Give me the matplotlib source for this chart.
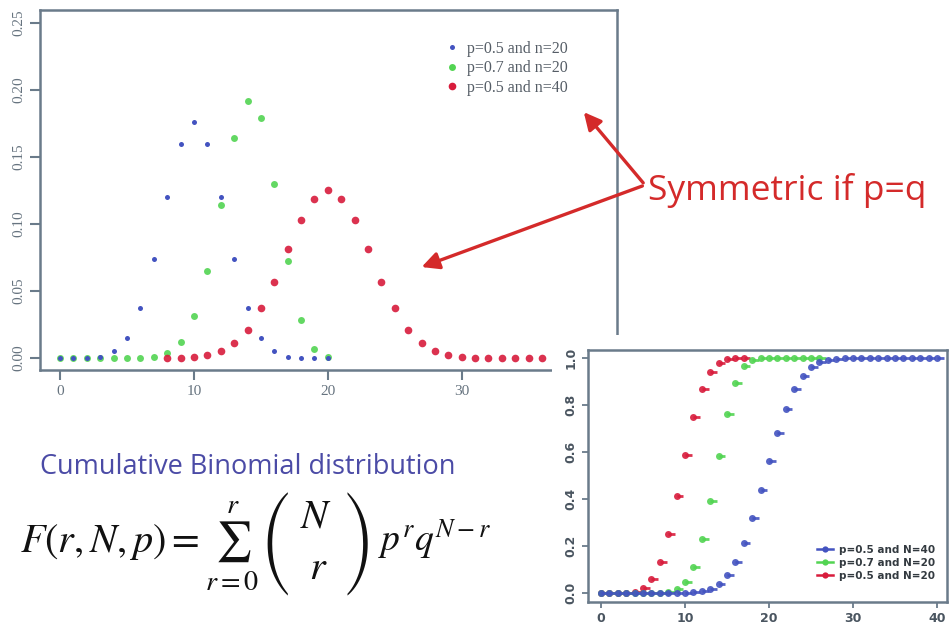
import matplotlib.pyplot as plt
import matplotlib.patches as mpatches
from matplotlib.lines import Line2D
import numpy as np

# ---- data: binomial probabilities (top-left panel) ----
x_b20 = list(range(0, 21))
pmf_b20 = [0, 0, 0, 0.001, 0.005, 0.015, 0.037, 0.074, 0.120, 0.160, 0.176,
           0.160, 0.120, 0.074, 0.037, 0.015, 0.005, 0.001, 0, 0, 0]
x_g20 = list(range(0, 21))
pmf_g20 = [0, 0, 0, 0, 0, 0, 0, 0.001, 0.004, 0.012, 0.031, 0.065, 0.114,
           0.164, 0.192, 0.179, 0.130, 0.072, 0.028, 0.007, 0.001]
x_r40 = list(range(8, 37))
pmf_r40 = [0, 0, 0.001, 0.002, 0.005, 0.011, 0.021, 0.037, 0.057, 0.081,
           0.103, 0.119, 0.125, 0.119, 0.103, 0.081, 0.057, 0.037, 0.021,
           0.011, 0.005, 0.002, 0.001, 0, 0, 0, 0, 0, 0]
pmf_labels = ['p=0.5 and n=20', 'p=0.7 and n=20', 'p=0.5 and n=40']

# ---- data: cumulative distribution (inset) ----
x_c40 = list(range(0, 41))
cdf_c40 = [0] * 11 + [0.003, 0.008, 0.019, 0.040, 0.077, 0.134, 0.215, 0.318,
                      0.437, 0.563, 0.682, 0.785, 0.866, 0.923, 0.960, 0.981,
                      0.992, 0.997] + [1.0] * 12
x_c07 = list(range(0, 27))
cdf_c07 = [0, 0, 0, 0, 0, 0, 0, 0, 0.005, 0.017, 0.048, 0.113, 0.228, 0.392,
           0.584, 0.762, 0.893, 0.965, 0.992, 0.999] + [1.0] * 7
x_c05 = list(range(0, 18))
cdf_c05 = [0, 0, 0, 0.001, 0.006, 0.021, 0.058, 0.132, 0.252, 0.412, 0.588,
           0.748, 0.868, 0.942, 0.979, 0.994, 0.999, 1.0]
cdf_labels = ['p=0.5 and N=40', 'p=0.7 and N=20', 'p=0.5 and N=20']

BLUE = '#4353c0'
GREEN = '#52d452'
RED = '#d81c3c'
AXC = '#6a7b8a'
TXC = '#66737f'

W, H = 950, 628
def fx(px):
    return px / W
def fy(py):
    return 1 - py / H

plt.rcParams['mathtext.fontset'] = 'stix'
fig = plt.figure(figsize=(9.5, 6.28), dpi=100)
fig.patch.set_facecolor('white')

# ==========================================
# main panel
# ==========================================
ax = fig.add_axes([fx(40), fy(370), fx(617) - fx(40), fy(10) - fy(370)])
ax.plot(x_g20, pmf_g20, 'o', color=GREEN, ms=5, mec='none', alpha=0.9)
ax.plot(x_b20, pmf_b20, 'o', color=BLUE, ms=3.6, mec='none')
ax.plot(x_r40, pmf_r40, 'o', color=RED, ms=5.5, mec='none', alpha=0.9)
ax.set_xlim(-1.5, 41.6)
ax.set_ylim(-0.009, 0.2597)
ax.set_xticks([0, 10, 20, 30])
ax.set_yticks([0, 0.05, 0.10, 0.15, 0.20, 0.25])
ax.set_yticklabels(['0.00', '0.05', '0.10', '0.15', '0.20', '0.25'],
                   rotation=90, va='center')
for s in ax.spines.values():
    s.set_color(AXC)
    s.set_linewidth(1.8)
ax.tick_params(colors=AXC, labelcolor=TXC, length=7, width=1.5, labelsize=11)
for lab in ax.get_xticklabels() + ax.get_yticklabels():
    lab.set_family('Liberation Serif')

handles = [Line2D([0], [0], ls='none', marker='o', color=c, ms=m, mec='none')
           for c, m in [(BLUE, 3.6), (GREEN, 5), (RED, 5.5)]]
leg = ax.legend(handles, pmf_labels, loc='upper left', frameon=False,
                bbox_to_anchor=(fx(438), fy(33)), bbox_transform=fig.transFigure,
                borderpad=0, handlelength=0.8, handletextpad=0.5, labelspacing=0.22,
                prop={'family': 'Liberation Serif', 'size': 11.5})
for t in leg.get_texts():
    t.set_color('#555d66')

# white backing of the inset picture, hiding the corner of the main box
cover = fig.add_axes([fx(552), 0, 1 - fx(552), fy(335)])
cover.set_zorder(2)
cover.axis('off')
cover.add_patch(mpatches.Rectangle((0, 0), 1, 1, color='white', transform=cover.transAxes))

# ==========================================
# inset: cumulative distribution
# ==========================================
ins = fig.add_axes([fx(588), fy(602), fx(947) - fx(588), fy(350) - fy(602)])
ins.set_zorder(3)
for xs, ys, c in [(x_c05, cdf_c05, RED), (x_c07, cdf_c07, GREEN), (x_c40, cdf_c40, BLUE)]:
    xs = np.array(xs)
    ins.hlines(ys, xs, xs + 0.8, color=c, lw=2, alpha=0.9)
    ins.plot(xs, ys, 'o', color=c, ms=5, mec='none', alpha=0.9)
ins.set_xlim(-1.55, 41.2)
ins.set_ylim(-0.038, 1.034)
ins.set_xticks([0, 10, 20, 30, 40])
ins.set_yticks([0, 0.2, 0.4, 0.6, 0.8, 1.0])
ins.set_yticklabels(['0.0', '0.2', '0.4', '0.6', '0.8', '1.0'], rotation=90, va='center')
for s in ins.spines.values():
    s.set_color(AXC)
    s.set_linewidth(1.8)
ins.tick_params(colors=AXC, labelcolor='#4a5560', length=4, width=1.3, labelsize=9)
for lab in ins.get_xticklabels() + ins.get_yticklabels():
    lab.set_fontweight('bold')

ihandles = [Line2D([0], [0], color=c, lw=1.8, marker='o', ms=4.5, mec='none')
            for c in [BLUE, GREEN, RED]]
ileg = ins.legend(ihandles, cdf_labels, loc='lower right', frameon=False,
                  bbox_to_anchor=(fx(940), fy(586)), bbox_transform=fig.transFigure,
                  borderpad=0, handlelength=1.6, handletextpad=0.5, labelspacing=0.3,
                  prop={'size': 7.5, 'weight': 'bold'})
for t in ileg.get_texts():
    t.set_color('#333a40')

# ==========================================
# annotations
# ==========================================
fig.text(fx(648), fy(190), 'Symmetric if p=q', color='#d42a2a', fontsize=25.5,
         family='Open Sans', va='center', ha='left')
for tip in [(582, 110), (419, 268)]:
    arr = mpatches.FancyArrowPatch((fx(645), fy(185)), (fx(tip[0]), fy(tip[1])),
                                   transform=fig.transFigure, arrowstyle='-|>',
                                   mutation_scale=26, color='#d42a2a', lw=2.4)
    fig.add_artist(arr)

fig.text(fx(40), fy(467), 'Cumulative Binomial distribution', color='#4b4ba6',
         fontsize=19.5, family='Open Sans', va='center', ha='left')

# formula, assembled from pieces so the binomial coefficient gets tall brackets
fig.text(fx(20), fy(552), r'$F(r,N,p) = \sum_{r=0}^{r}$',
         fontsize=29, color='#111111', va='baseline', ha='left')
for px, ch in [(275, '('), (359, ')')]:
    fig.text(fx(px), fy(544), ch, family='STIXSizeThreeSym', fontsize=30,
             color='#111111', va='center', ha='center')
fig.text(fx(316), fy(517), r'$N$', fontsize=29, color='#111111', va='center', ha='center')
fig.text(fx(318), fy(568), r'$r$', fontsize=29, color='#111111', va='center', ha='center')
fig.text(fx(378), fy(552), r'$p^{r}q^{N-r}$', fontsize=27, color='#111111',
         va='baseline', ha='left')

fig.savefig('out.png', dpi=100, facecolor='white')
